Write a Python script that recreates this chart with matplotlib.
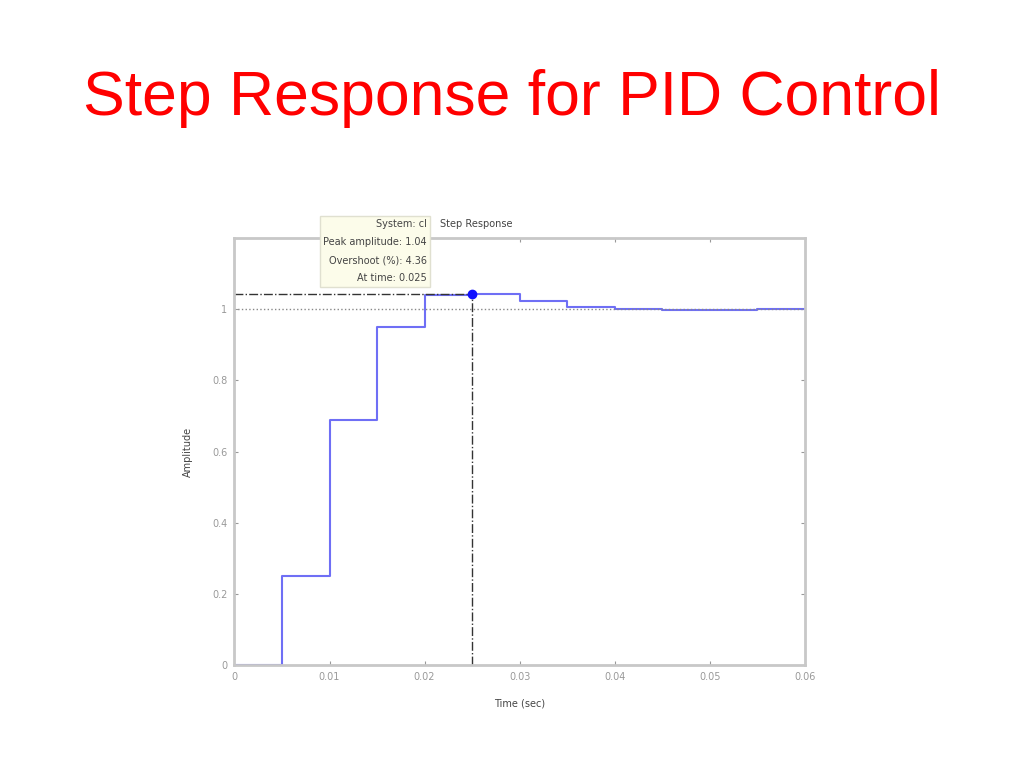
import numpy as np
import matplotlib.pyplot as plt

# step response samples (sample time 0.005 s)
t = [0, 0.005, 0.01, 0.015, 0.02, 0.025, 0.03, 0.035, 0.04, 0.045, 0.05, 0.055, 0.06]
y = [0, 0.25, 0.69, 0.95, 1.04, 1.044, 1.022, 1.006, 1.0, 0.998, 0.998, 1.0, 1.0]

peak_t = 0.025
peak_y = 1.044
xticks = [0, 0.01, 0.02, 0.03, 0.04, 0.05, 0.06]
xlabels = ["0", "0.01", "0.02", "0.03", "0.04", "0.05", "0.06"]
yticks = [0, 0.2, 0.4, 0.6, 0.8, 1]
ylabels = ["0", "0.2", "0.4", "0.6", "0.8", "1"]

fig = plt.figure(figsize=(10.24, 7.68), dpi=100)
fig.text(0.5, 0.872, "Step Response for PID Control", color="#ff0000",
         fontsize=45, ha="center", va="center", family="Liberation Sans")

ax = fig.add_axes([0.229, 0.134, 0.557, 0.556])
ax.step(t, y, where="post", color="#6f6ff5", lw=1.5)
ax.axhline(1, color="#888888", ls=":", lw=1)
ax.plot([0, peak_t], [peak_y, peak_y], color="#333333", ls="-.", lw=1)
ax.plot([peak_t, peak_t], [0, peak_y], color="#333333", ls="-.", lw=1)
ax.plot([peak_t], [peak_y], "o", color="#1010ff", ms=6)

ax.set_xlim(0, 0.06)
ax.set_ylim(0, 1.2)
ax.set_xticks(xticks)
ax.set_xticklabels(xlabels)
ax.set_yticks(yticks)
ax.set_yticklabels(ylabels)
ax.tick_params(colors="#999999", labelsize=7, length=3, direction="in",
               top=True, right=True, pad=5)
for s in ax.spines.values():
    s.set_color("#c8c8c8")
    s.set_linewidth(2)
ax.set_xlabel("Time (sec)", fontsize=7, color="#444444", labelpad=12)
ax.set_ylabel("Amplitude", fontsize=7, color="#444444", labelpad=14)

fig.text(0.43, 0.708, "Step Response", fontsize=7, color="#444444",
         ha="left", va="center")

box_txt = ("System: cl\nPeak amplitude: 1.04\n"
           "Overshoot (%): 4.36\nAt time: 0.025")
fig.text(0.417, 0.673, box_txt, fontsize=7, color="#444444", ha="right",
         va="center", multialignment="right", linespacing=2.0,
         bbox=dict(boxstyle="square,pad=0.35", fc="#fcfcea", ec="#e0e0d0"))

fig.savefig("out.png", dpi=100)
